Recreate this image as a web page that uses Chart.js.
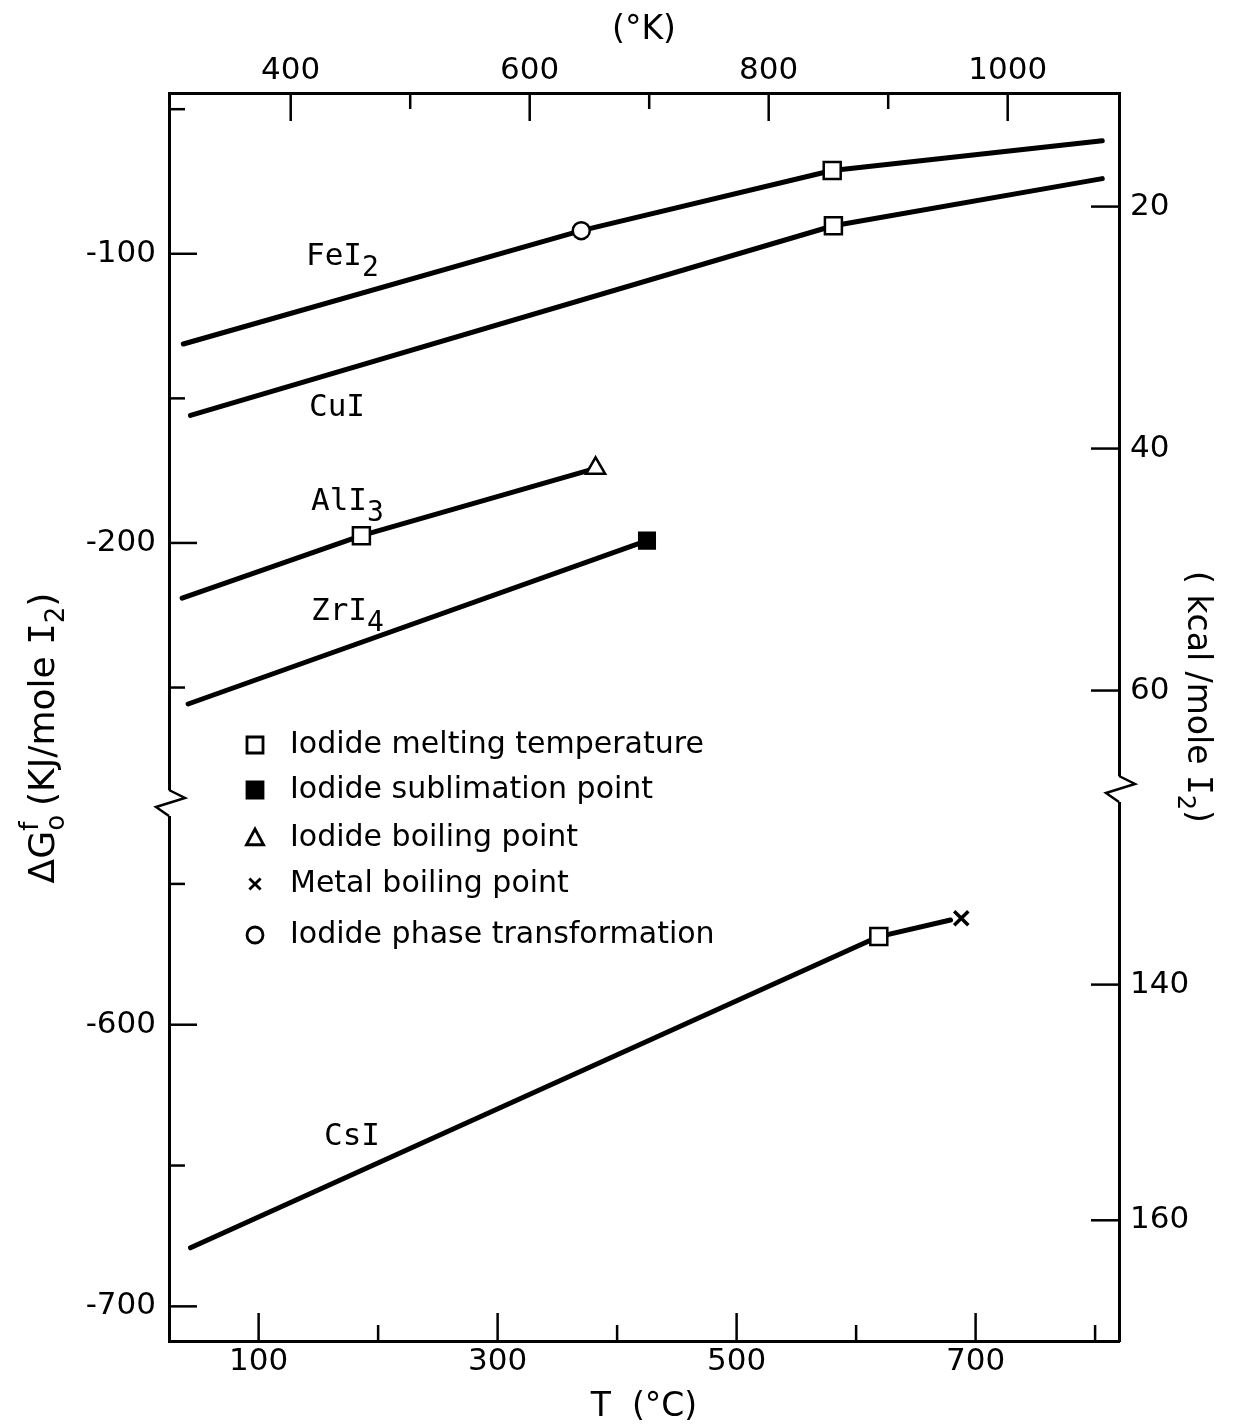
<!DOCTYPE html>
<html><head><meta charset="utf-8">
<script src="https://cdn.jsdelivr.net/npm/chart.js@4.4.1/dist/chart.umd.min.js"></script>
<style>html,body{margin:0;padding:0;background:#fff;}canvas{display:block;}</style>
</head><body>
<canvas id="c" width="1233" height="1428"></canvas>
<script>
// ---------------- DATA (T in °C, ΔG in kJ / mole I2) ----------------
const feI2T = [37, 370, 580, 806];
const feI2G = [-131.2, -92.0, -71.2, -60.9];
const feI2Event = ['', 'phase', 'melt', ''];

const cuIT = [43, 581, 806];
const cuIG = [-155.9, -90.3, -74.0];
const cuIEvent = ['', 'melt', ''];

const alI3T = [36, 186, 382];
const alI3G = [-219.1, -197.5, -174.2];
const alI3Event = ['', 'melt', 'boil'];

const zrI4T = [41, 425];
const zrI4G = [-255.7, -199.2];
const zrI4Event = ['', 'sublime'];

const csIT = [43, 619, 679];
const csIG = [-679.2, -568.7, -562.8];
const csIEvent = ['', 'melt', ''];

const csMetalBoilT = [688];
const csMetalBoilG = [-562.2];

// ---------------- AXES ----------------
const tRange = [25, 820];
const gUpperRange = [-288.2, -44.4];
const gLowerRange = [-712.3, -519.5];
const tTicks = [100, 200, 300, 400, 500, 600, 700, 800];
const tTickLabels = [100, 300, 500, 700];
const kTicks = [400, 500, 600, 700, 800, 900, 1000];
const kTickLabels = [400, 600, 800, 1000];
const gUpperTicks = [-50, -100, -150, -200, -250];
const gUpperLabels = [-100, -200];
const gLowerTicks = [-550, -600, -650, -700];
const gLowerLabels = [-600, -700];
const kcalUpperTicks = [20, 40, 60];
const kcalLowerTicks = [140, 160];
const KJ_PER_KCAL = 4.184;
const K_OFFSET = 273.15;

// ---------------- LEGEND ----------------
const legendKeys = ['melt', 'sublime', 'boil', 'metalBoil', 'phase'];
const legendLabels = ['Iodide melting temperature', 'Iodide sublimation point',
  'Iodide boiling point', 'Metal boiling point', 'Iodide phase transformation'];

// ---------------- STYLES ----------------
const markerStyle = {
  melt: {pointStyle: 'rect', radius: 12, bg: '#fff'},
  sublime: {pointStyle: 'rect', radius: 11, bg: '#000'},
  boil: {pointStyle: 'triangle', radius: 11, bg: '#fff'},
  metalBoil: {pointStyle: 'crossRot', radius: 10, bg: '#000'},
  phase: {pointStyle: 'circle', radius: 8.5, bg: '#fff'}
};
const FONT = "'DejaVu Sans', sans-serif";
const MONO = "'DejaVu Sans Mono', monospace";

function lineDataset(label, T, G, ev, axis) {
  return {
    label, yAxisID: axis, xAxisID: 'x', showLine: true,
    data: T.map((t, i) => ({x: t, y: G[i]})),
    borderColor: '#000', borderWidth: 5, borderCapStyle: 'round', borderJoinStyle: 'round',
    pointStyle: ev.map(e => e ? markerStyle[e].pointStyle : 'circle'),
    pointRadius: ev.map(e => e ? markerStyle[e].radius : 0),
    pointHoverRadius: ev.map(e => e ? markerStyle[e].radius : 0),
    pointBackgroundColor: ev.map(e => e ? markerStyle[e].bg : '#000'),
    pointBorderColor: '#000', pointBorderWidth: 2.5, pointHoverBorderWidth: 2.5
  };
}

const datasets = [
  lineDataset('FeI2', feI2T, feI2G, feI2Event, 'yTop'),
  lineDataset('CuI', cuIT, cuIG, cuIEvent, 'yTop'),
  lineDataset('AlI3', alI3T, alI3G, alI3Event, 'yTop'),
  lineDataset('ZrI4', zrI4T, zrI4G, zrI4Event, 'yTop'),
  lineDataset('CsI', csIT, csIG, csIEvent, 'yBot'),
  {
    label: 'Cs boiling point', yAxisID: 'yBot', xAxisID: 'x', showLine: false,
    data: csMetalBoilT.map((t, i) => ({x: t, y: csMetalBoilG[i]})),
    pointStyle: 'crossRot', pointRadius: 10, pointHoverRadius: 10,
    pointBorderColor: '#000', pointBorderWidth: 3.5, pointBackgroundColor: '#000'
  }
];

const labeledById = {
  x: tTickLabels, xK: kTickLabels, yTop: gUpperLabels, yBot: gLowerLabels,
  yTopR: kcalUpperTicks, yBotR: kcalLowerTicks
};

function setTicks(arr) { return s => { s.ticks = arr.map(v => ({value: v})); }; }
function labelCb(arr) { return v => arr.includes(v) ? String(v) : ''; }

const tickFont = {family: FONT, size: 31};
const noGrid = {display: false, drawTicks: false};
const frame = {display: true, color: '#000', width: 3};

// ---------------- PLUGINS ----------------
const inwardTicks = {
  id: 'inwardTicks',
  afterDraw(chart) {
    const ctx = chart.ctx;
    ctx.save();
    ctx.strokeStyle = '#000';
    ctx.lineWidth = 2.5;
    for (const [id, s] of Object.entries(chart.scales)) {
      const labeled = labeledById[id] || [];
      s.ticks.forEach((t) => {
        const p = s.getPixelForValue(t.value);
        const len = labeled.includes(t.value) ? 28 : 16;
        ctx.beginPath();
        if (s.position === 'left') { ctx.moveTo(s.right, p); ctx.lineTo(s.right + len, p); }
        else if (s.position === 'right') { ctx.moveTo(s.left, p); ctx.lineTo(s.left - len, p); }
        else if (s.position === 'bottom') { ctx.moveTo(p, s.top); ctx.lineTo(p, s.top - len); }
        else { ctx.moveTo(p, s.bottom); ctx.lineTo(p, s.bottom + len); }
        ctx.stroke();
      });
    }
    ctx.restore();
  }
};

const axisBreak = {
  id: 'axisBreak',
  afterDraw(chart) {
    const ctx = chart.ctx;
    const yb = chart.scales.yTop.bottom;
    const xl = chart.scales.yTop.right;
    const xr = chart.scales.yTopR.left;
    const shape = [[0, -8], [16, 0], [-13, 9], [0, 18]];
    ctx.save();
    [[xl, yb], [xr, yb - 14]].forEach(([x0, y0]) => {
      ctx.fillStyle = '#fff';
      ctx.fillRect(x0 - 3, y0 - 8, 6, 26);
      ctx.strokeStyle = '#000';
      ctx.lineWidth = 2.5;
      ctx.lineJoin = 'miter';
      ctx.beginPath();
      shape.forEach(([dx, dy], i) => i ? ctx.lineTo(x0 + dx, y0 + dy) : ctx.moveTo(x0 + dx, y0 + dy));
      ctx.stroke();
    });
    ctx.restore();
  }
};

function drawMarker(ctx, key, x, y, r) {
  ctx.save();
  ctx.strokeStyle = '#000';
  ctx.lineWidth = 2.8;
  ctx.beginPath();
  if (key === 'melt' || key === 'sublime') {
    ctx.rect(x - r, y - r, 2 * r, 2 * r);
    ctx.fillStyle = key === 'sublime' ? '#000' : '#fff';
    ctx.fill(); ctx.stroke();
  } else if (key === 'boil') {
    ctx.moveTo(x, y - r); ctx.lineTo(x + r * 0.95, y + r * 0.75); ctx.lineTo(x - r * 0.95, y + r * 0.75); ctx.closePath();
    ctx.stroke();
  } else if (key === 'metalBoil') {
    const a = r * 0.7;
    ctx.moveTo(x - a, y - a); ctx.lineTo(x + a, y + a); ctx.moveTo(x + a, y - a); ctx.lineTo(x - a, y + a);
    ctx.stroke();
  } else {
    ctx.arc(x, y, r, 0, Math.PI * 2);
    ctx.stroke();
  }
  ctx.restore();
}

function drawRich(ctx, pieces, x, y) {
  let cx = x;
  for (const p of pieces) {
    ctx.font = p.font;
    ctx.fillText(p.t, cx, y + (p.dy || 0));
    if (!p.hold) cx += ctx.measureText(p.t).width + (p.gap || 0);
  }
  return cx - x;
}
function richWidth(ctx, pieces) {
  let w = 0;
  for (const p of pieces) { ctx.font = p.font; if (!p.hold) w += ctx.measureText(p.t).width + (p.gap || 0); }
  return w;
}

const annotations = {
  id: 'annotations',
  afterDraw(chart) {
    const ctx = chart.ctx;
    ctx.save();
    ctx.fillStyle = '#000';
    ctx.textAlign = 'left';
    // legend
    const rows = [745, 790, 838, 884, 935];
    legendKeys.forEach((k, i) => {
      const r = {melt: 8, sublime: 8, boil: 9, metalBoil: 8, phase: 8}[k];
      drawMarker(ctx, k, 255, rows[i], r);
      ctx.font = `30px ${FONT}`;
      ctx.textBaseline = 'middle';
      ctx.fillText(legendLabels[i], 290, rows[i]);
    });
    ctx.textBaseline = 'alphabetic';
    // compound labels
    const big = `31px ${MONO}`, sub = `28px ${MONO}`;
    drawRich(ctx, [{t: 'FeI', font: big}, {t: '2', font: sub, dy: 11}], 306, 265);
    drawRich(ctx, [{t: 'CuI', font: big}], 309, 416);
    drawRich(ctx, [{t: 'AlI', font: big}, {t: '3', font: sub, dy: 11}], 311, 510);
    drawRich(ctx, [{t: 'ZrI', font: big}, {t: '4', font: sub, dy: 11}], 311, 620);
    drawRich(ctx, [{t: 'CsI', font: big}], 324, 1145);

    // left title (rotated)
    const lt = [
      {t: 'Δ', font: `36px ${FONT}`},
      {t: 'G', font: `36px ${FONT}`},
      {t: 'f', font: `26px ${FONT}`, dy: -16, hold: true},
      {t: 'o', font: `26px ${FONT}`, dy: 10, gap: 9},
      {t: '(KJ/mole ', font: `36px ${FONT}`},
      {t: 'I', font: `36px ${MONO}`},
      {t: '2', font: `26px ${FONT}`, dy: 10},
      {t: ')', font: `36px ${FONT}`}
    ];
    ctx.save();
    ctx.translate(54, 738);
    ctx.rotate(-Math.PI / 2);
    drawRich(ctx, lt, -richWidth(ctx, lt) / 2, 0);
    ctx.restore();

    // right title (rotated clockwise)
    const rt = [
      {t: '( kcal /mole ', font: `33px ${FONT}`},
      {t: 'I', font: `33px ${MONO}`},
      {t: '2', font: `24px ${FONT}`, dy: 10},
      {t: ')', font: `33px ${FONT}`}
    ];
    ctx.save();
    ctx.translate(1188, 697);
    ctx.rotate(Math.PI / 2);
    drawRich(ctx, rt, -richWidth(ctx, rt) / 2, 0);
    ctx.restore();
    ctx.restore();
  }
};

// ---------------- CHART ----------------
new Chart(document.getElementById('c'), {
  type: 'scatter',
  data: {datasets},
  options: {
    responsive: false, animation: false, devicePixelRatio: 1,
    layout: {padding: 0},
    plugins: {legend: {display: false}, tooltip: {enabled: false}},
    scales: {
      x: {
        type: 'linear', position: 'bottom', min: tRange[0], max: tRange[1],
        afterBuildTicks: setTicks(tTicks),
        ticks: {callback: labelCb(tTickLabels), font: tickFont, color: '#000', padding: 2, maxRotation: 0, autoSkip: false},
        grid: noGrid, border: frame,
        title: {display: true, text: 'T  (°C)', font: {family: FONT, size: 33}, color: '#000', padding: {top: 0, bottom: 1}},
        afterFit: s => { s.height = 87; }
      },
      xK: {
        type: 'linear', position: 'top', min: tRange[0] + K_OFFSET, max: tRange[1] + K_OFFSET,
        afterBuildTicks: setTicks(kTicks),
        ticks: {callback: labelCb(kTickLabels), font: tickFont, color: '#000', padding: 3, maxRotation: 0, autoSkip: false},
        grid: noGrid, border: frame,
        title: {display: true, text: '(°K)', font: {family: FONT, size: 33}, color: '#000', padding: {top: 11, bottom: 0}},
        afterFit: s => { s.height = 93; }
      },
      yTop: {
        type: 'linear', position: 'left', stack: 'g', stackWeight: 705, weight: 2,
        min: gUpperRange[0], max: gUpperRange[1],
        afterBuildTicks: setTicks(gUpperTicks),
        ticks: {callback: labelCb(gUpperLabels), font: tickFont, color: '#000', padding: 13, autoSkip: false},
        grid: noGrid, border: frame,
        afterFit: s => { s.width = 169; }
      },
      yBot: {
        type: 'linear', position: 'left', stack: 'g', stackWeight: 543, weight: 1,
        min: gLowerRange[0], max: gLowerRange[1],
        afterBuildTicks: setTicks(gLowerTicks),
        ticks: {callback: labelCb(gLowerLabels), font: tickFont, color: '#000', padding: 13, autoSkip: false},
        grid: noGrid, border: frame,
        afterFit: s => { s.width = 169; }
      },
      yTopR: {
        type: 'linear', position: 'right', stack: 'k', stackWeight: 705, weight: 1, reverse: true,
        min: -gUpperRange[1] / KJ_PER_KCAL, max: -gUpperRange[0] / KJ_PER_KCAL,
        afterBuildTicks: setTicks(kcalUpperTicks),
        ticks: {callback: labelCb(kcalUpperTicks), font: tickFont, color: '#000', padding: 11, autoSkip: false},
        grid: noGrid, border: frame,
        afterFit: s => { s.width = 114; }
      },
      yBotR: {
        type: 'linear', position: 'right', stack: 'k', stackWeight: 543, weight: 2, reverse: true,
        min: -gLowerRange[1] / KJ_PER_KCAL, max: -gLowerRange[0] / KJ_PER_KCAL,
        afterBuildTicks: setTicks(kcalLowerTicks),
        ticks: {callback: labelCb(kcalLowerTicks), font: tickFont, color: '#000', padding: 11, autoSkip: false},
        grid: noGrid, border: frame,
        afterFit: s => { s.width = 114; }
      }
    }
  },
  plugins: [inwardTicks, axisBreak, annotations]
});
</script>
</body></html>
